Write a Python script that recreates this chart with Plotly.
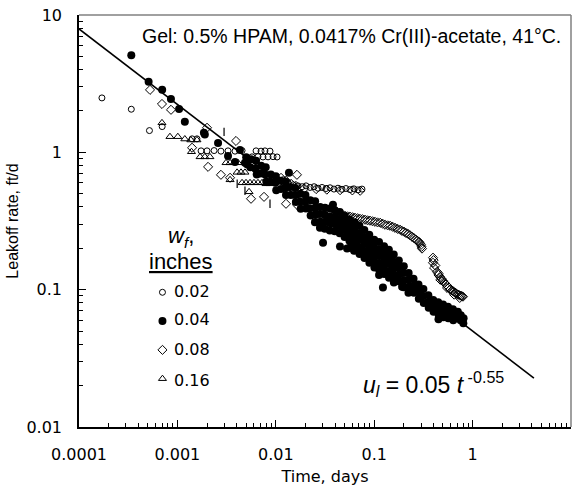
import plotly.graph_objects as go

# ---- fit line: u_l = 0.05 t^-0.55 (end points) ----
fit_t = [0.0001, 4.2]
fit_u = [7.92, 0.0227]

# ---- legend labels (fracture width, inches) ----
labels = ["0.02", "0.04", "0.08", "0.16"]

# ---- w_f = 0.02 in (open circles) ----
t_002 = [0.000171, 0.00034, 0.00052, 0.00070, 0.00141, 0.00158,
         0.00174, 0.00200, 0.00236, 0.00277, 0.00327, 0.00385, 0.00454, 0.00630, 0.00708, 0.00776, 0.00873,
         0.00573, 0.00659, 0.00741, 0.00834, 0.00938, 0.0103,
         0.0118, 0.0133, 0.0150,
         0.0168, 0.0185, 0.0203, 0.0223, 0.0245, 0.0269, 0.0295, 0.0324, 0.0356, 0.0390,
         0.0428, 0.0471, 0.0516, 0.0567, 0.0623, 0.0684, 0.0751]
u_002 = [2.49, 2.06, 1.44, 1.54, 1.254, 1.254,
         1.025, 1.025, 1.03, 1.02, 1.025, 1.02, 1.03, 1.025, 1.02, 1.025, 1.02,
         0.927, 0.93, 0.925, 0.927, 0.93, 0.925,
         0.631, 0.600, 0.580,
         0.570, 0.562, 0.570, 0.555, 0.562, 0.548, 0.555, 0.545, 0.552, 0.540,
         0.548, 0.538, 0.545, 0.535, 0.542, 0.533, 0.540]

# ---- w_f = 0.04 in (filled circles) ----
t_004 = [0.00034, 0.00051, 0.00070, 0.00086, 0.00104, 0.00119, 0.00186, 0.00190,
         0.00259, 0.00327, 0.00432, 0.00385, 0.00486,
         0.0050, 0.0051, 0.0056, 0.0055, 0.0063, 0.0062, 0.0064, 0.0071, 0.0070,
         0.0079, 0.0078, 0.0080, 0.0089, 0.0088, 0.0100, 0.0099, 0.0101,
         0.0112, 0.0113, 0.0126, 0.0125, 0.0127, 0.0141, 0.0142,
         0.0158, 0.0157, 0.0160, 0.0178, 0.0176, 0.0179, 0.0200, 0.0198, 0.0202,
         0.0224, 0.0222, 0.0226, 0.0251, 0.0249, 0.0253, 0.0250,
         0.0282, 0.0280, 0.0284, 0.0281, 0.0316, 0.0314, 0.0318, 0.0315,
         0.0355, 0.0352, 0.0358, 0.0354, 0.0398, 0.0395, 0.0401, 0.0397,
         0.0447, 0.0443, 0.0450, 0.0446, 0.0501, 0.0497, 0.0505, 0.0500,
         0.0562, 0.0557, 0.0566, 0.0560, 0.0564,
         0.0631, 0.0626, 0.0636, 0.0629, 0.0633,
         0.0708, 0.0702, 0.0713, 0.0706, 0.0710,
         0.0794, 0.0788, 0.0800, 0.0791, 0.0797,
         0.0891, 0.0884, 0.0897, 0.0888, 0.0894,
         0.100, 0.099, 0.101, 0.0995, 0.1005,
         0.112, 0.111, 0.113, 0.1115, 0.1125, 0.112,
         0.126, 0.125, 0.127, 0.1255, 0.1265,
         0.141, 0.140, 0.142, 0.1405, 0.1415,
         0.158, 0.157, 0.159, 0.1575, 0.1585,
         0.178, 0.176, 0.179, 0.177,
         0.200, 0.198, 0.202, 0.199,
         0.224, 0.222, 0.226, 0.223,
         0.251, 0.249, 0.253,
         0.282, 0.280, 0.284,
         0.316, 0.313, 0.319,
         0.355, 0.352, 0.358,
         0.398, 0.395, 0.401,
         0.447, 0.443, 0.451,
         0.501, 0.497, 0.505,
         0.562, 0.557, 0.566,
         0.631, 0.626, 0.636,
         0.708, 0.702,
         0.759, 0.755,
         0.810, 0.805,
         0.0449, 0.0530, 0.0624, 0.0735, 0.0846,
         0.0136, 0.0302, 0.1227, 0.192, 0.242, 0.45, 0.0381]
u_004 = [5.1, 3.26, 2.85, 2.45, 2.07, 1.67, 1.39, 1.35,
         1.17, 0.94, 1.04, 0.85, 0.84,
         0.92, 0.82, 0.89, 0.78, 0.87, 0.76, 0.69, 0.80, 0.70,
         0.78, 0.69, 0.61, 0.69, 0.61, 0.67, 0.60, 0.53,
         0.62, 0.54, 0.61, 0.55, 0.49, 0.56, 0.49,
         0.55, 0.49, 0.435, 0.50, 0.437, 0.388, 0.49, 0.438, 0.390,
         0.447, 0.391, 0.347, 0.440, 0.392, 0.349, 0.310,
         0.400, 0.356, 0.312, 0.282, 0.395, 0.351, 0.312, 0.278,
         0.390, 0.341, 0.304, 0.270, 0.378, 0.336, 0.299, 0.266,
         0.367, 0.326, 0.290, 0.258, 0.344, 0.306, 0.272, 0.242,
         0.323, 0.287, 0.255, 0.227, 0.202,
         0.310, 0.275, 0.245, 0.218, 0.194,
         0.291, 0.258, 0.230, 0.204, 0.182,
         0.272, 0.242, 0.215, 0.191, 0.170,
         0.251, 0.223, 0.199, 0.177, 0.157,
         0.231, 0.206, 0.183, 0.163, 0.145,
         0.222, 0.197, 0.176, 0.156, 0.139, 0.128,
         0.207, 0.184, 0.164, 0.146, 0.130,
         0.195, 0.174, 0.155, 0.137, 0.122,
         0.180, 0.160, 0.143, 0.127, 0.113,
         0.163, 0.145, 0.129, 0.115,
         0.148, 0.132, 0.117, 0.104,
         0.132, 0.118, 0.105, 0.095,
         0.120, 0.107, 0.095,
         0.109, 0.097, 0.086,
         0.101, 0.090, 0.080,
         0.091, 0.081, 0.074,
         0.084, 0.076, 0.069,
         0.081, 0.073, 0.066,
         0.078, 0.070, 0.063,
         0.075, 0.067, 0.062,
         0.072, 0.065, 0.060,
         0.069, 0.064,
         0.065, 0.060,
         0.062, 0.057,
         0.206, 0.199, 0.192, 0.186, 0.180,
         0.71, 0.22, 0.1035, 0.105, 0.0966, 0.061, 0.415]

# ---- w_f = 0.08 in (open diamonds) ----
t_008 = [0.000527, 0.000697, 0.000861, 0.00200, 0.00141, 0.00394, 0.00205, 0.00277, 0.00343,
         0.0056, 0.00759, 0.0127, 0.0164, 0.0164,
         0.0113, 0.0127, 0.0143, 0.0160,
         0.0195, 0.0257, 0.0330, 0.0450, 0.0600, 0.0720,
         0.0400, 0.0424, 0.0449, 0.0476, 0.0504, 0.0535, 0.0567, 0.0602, 0.0638, 0.0677,
         0.0717, 0.0760, 0.0807, 0.0855, 0.0906, 0.0960, 0.102, 0.108, 0.115, 0.122,
         0.129, 0.137, 0.145, 0.154, 0.163, 0.173, 0.183, 0.192, 0.201, 0.210,
         0.220, 0.231, 0.242, 0.254, 0.266, 0.275, 0.285, 0.292, 0.299, 0.303, 0.306,
         0.396, 0.396, 0.401, 0.406, 0.418, 0.435, 0.450, 0.452, 0.467, 0.470, 0.483,
         0.500, 0.518, 0.537, 0.550, 0.556, 0.576, 0.590, 0.597, 0.618, 0.640, 0.650,
         0.663, 0.687, 0.711, 0.736, 0.740, 0.762, 0.780, 0.798]
u_008 = [2.85, 2.25, 2.04, 1.51, 1.08, 1.21, 0.784, 0.686, 0.653,
         0.459, 0.474, 0.422, 0.686, 0.415,
         0.652, 0.621, 0.590, 0.570,
         0.545, 0.540, 0.535, 0.530, 0.528, 0.525,
         0.369, 0.363, 0.357, 0.351, 0.345, 0.342, 0.340, 0.337, 0.334, 0.331,
         0.328, 0.326, 0.323, 0.320, 0.318, 0.315, 0.312, 0.309, 0.307, 0.302,
         0.297, 0.294, 0.292, 0.287, 0.282, 0.277, 0.273, 0.268, 0.264, 0.259,
         0.255, 0.249, 0.243, 0.237, 0.231, 0.227, 0.223, 0.218, 0.212, 0.205, 0.199,
         0.171, 0.157, 0.164, 0.144, 0.150, 0.135, 0.128, 0.131, 0.124, 0.118, 0.120,
         0.116, 0.112, 0.109, 0.103, 0.106, 0.1035, 0.100, 0.101, 0.0984, 0.097, 0.092,
         0.0951, 0.0935, 0.092, 0.091, 0.087, 0.0904, 0.0895, 0.0889]

# ---- w_f = 0.16 in (open triangles) ----
t_016 = [0.000697, 0.00084, 0.00101, 0.00119, 0.00137, 0.00158, 0.00139,
         0.00170, 0.00190, 0.00214, 0.00312, 0.00343, 0.00376, 0.00413,
         0.00404, 0.00443, 0.00486, 0.00343,
         0.00454, 0.00498, 0.00547, 0.00600, 0.00659, 0.00724,
         0.00535, 0.00796, 0.00873]
u_016 = [1.64, 1.30, 1.30, 1.25, 1.23, 1.23, 1.01,
         0.927, 0.927, 0.927, 0.839, 0.839, 0.839, 0.839,
         0.715, 0.715, 0.715, 0.631,
         0.600, 0.600, 0.600, 0.600, 0.600, 0.600,
         0.516, 0.590, 0.590]

# ---- short vertical marks ----
t_bar = [0.00298, 0.00486, 0.00873, 0.00405]
u_bar = [1.41, 0.525, 0.422, 0.590]

TICK_FONT = dict(family="DejaVu Sans", size=16, color="black")

fig = go.Figure()
fig.add_trace(go.Scatter(x=fit_t, y=fit_u, mode="lines",
                         line=dict(color="black", width=1.6),
                         showlegend=False, hoverinfo="skip"))

mk_line = dict(color="black", width=1)
fig.add_trace(go.Scatter(x=t_002, y=u_002, mode="markers", name=" ",
                         legendgroup="a", legendrank=1,
                         marker=dict(symbol="circle-open", size=6, color="black", line=mk_line)))
fig.add_trace(go.Scatter(x=t_008, y=u_008, mode="markers", name=" ",
                         legendgroup="c", legendrank=3,
                         marker=dict(symbol="diamond-open", size=7, color="black", line=mk_line)))
fig.add_trace(go.Scatter(x=t_016, y=u_016, mode="markers", name=" ",
                         legendgroup="d", legendrank=4,
                         marker=dict(symbol="triangle-up-open", size=7, color="black", line=mk_line)))
fig.add_trace(go.Scatter(x=t_bar, y=u_bar, mode="markers", showlegend=False,
                         marker=dict(symbol="line-ns-open", size=6, color="black",
                                     line=dict(color="black", width=1.2))))
fig.add_trace(go.Scatter(x=t_004, y=u_004, mode="markers", name=" ",
                         legendgroup="b", legendrank=2,
                         marker=dict(symbol="circle", size=8, color="black",
                                     line=dict(color="black", width=0))))

axis_common = dict(type="log", showgrid=False, zeroline=False, showline=True,
                   linecolor="black", linewidth=1.5, ticks="inside", ticklen=7,
                   tickwidth=1, tickcolor="black", tickfont=TICK_FONT, mirror=False,
                   automargin=False,
                   minor=dict(ticks="inside", ticklen=4, tickwidth=1, tickcolor="black",
                              dtick="D1", showgrid=False))

# legend text, placed beside the legend keys
leg_y = [0.330, 0.260, 0.187, 0.112]
leg_ann = [dict(text=lab, xref="paper", yref="paper", x=0.189, y=yy, xanchor="left",
                yanchor="middle", showarrow=False, font=TICK_FONT)
           for lab, yy in zip(labels, leg_y)]

fig.update_layout(
    width=580, height=491,
    margin=dict(l=79, r=9, t=15, b=64),
    paper_bgcolor="white", plot_bgcolor="white",
    font=dict(family="Liberation Sans", size=14, color="black"),
    xaxis=dict(range=[-4, 1],
               tickvals=[0.0001, 0.001, 0.01, 0.1, 1, 10],
               ticktext=["0.0001", "0.001", "0.01", "0.1", "1", "10"],
               ticklabelstandoff=12,
               title=dict(text="Time, days", font=TICK_FONT, standoff=8),
               **axis_common),
    yaxis=dict(range=[-2, 1],
               tickvals=[0.01, 0.1, 1, 10],
               ticktext=["0.01", "0.1", "1", "10"],
               ticklabelstandoff=12,
               title=dict(text="Leakoff rate, ft/d",
                          font=dict(family="Liberation Sans", size=16, color="black"),
                          standoff=4),
               **axis_common),
    showlegend=True,
    legend=dict(x=0.129, y=0.368, xanchor="left", yanchor="top",
                bgcolor="rgba(0,0,0,0)", borderwidth=0,
                font=TICK_FONT, tracegroupgap=5, itemsizing="trace", itemwidth=30),
    shapes=[
        dict(type="line", xref="paper", yref="paper", x0=0, x1=1, y0=1, y1=1,
             line=dict(color="#808080", width=1.5)),
        dict(type="line", xref="paper", yref="paper", x0=1, x1=1, y0=0, y1=1,
             line=dict(color="#808080", width=1.5)),
    ],
    annotations=[
        dict(text="Gel: 0.5% HPAM, 0.0417% Cr(III)-acetate, 41°C.",
             xref="paper", yref="paper", x=0.554, y=0.949, xanchor="center", yanchor="middle",
             showarrow=False, font=dict(family="Liberation Sans", size=19.5, color="black")),
        dict(text="<i>u</i><sub><i>l</i></sub> = 0.05 <i>t</i><sup> -0.55</sup>",
             xref="paper", yref="paper", x=0.573, y=0.105, xanchor="left", yanchor="middle",
             showarrow=False, font=dict(family="Liberation Sans", size=23, color="black")),
        dict(text="<i>w</i><sub><i>f</i></sub>,",
             xref="paper", yref="paper", x=0.207, y=0.461, xanchor="center", yanchor="middle",
             showarrow=False, font=dict(family="Liberation Sans", size=22, color="black")),
        dict(text="<u>inches</u>",
             xref="paper", yref="paper", x=0.207, y=0.402, xanchor="center", yanchor="middle",
             showarrow=False, font=dict(family="Liberation Sans", size=22, color="black")),
    ] + leg_ann,
)

fig.write_html("out.html", config={"displayModeBar": False},
               post_script="document.body.style.margin='0px';")
